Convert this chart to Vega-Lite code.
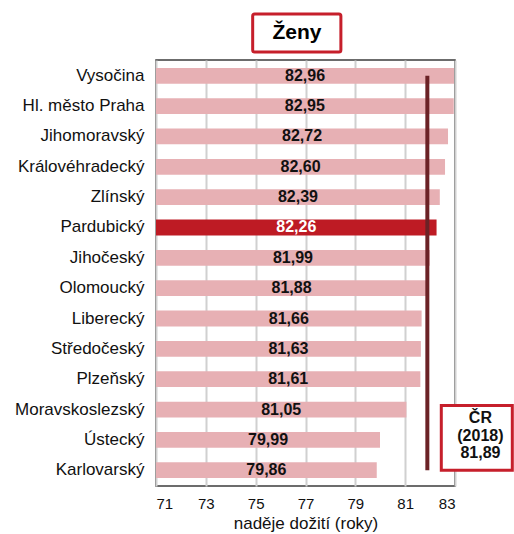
{
  "$schema": "https://vega.github.io/schema/vega-lite/v6.json",
  "background": "white",
  "padding": {"left": 13, "top": 12, "right": 0, "bottom": 0},
  "spacing": 5,
  "config": {
    "font": "Liberation Sans",
    "view": {"stroke": null}
  },
  "vconcat": [
    {
      "width": 299,
      "height": 38,
      "data": {"values": [{"nazev": "Ženy"}]},
      "layer": [
        {
          "mark": {"type": "rect", "fill": "white", "stroke": "#c61f2b", "strokeWidth": 3, "cornerRadius": 2},
          "encoding": {
            "x": {"datum": 74.88, "type": "quantitative", "scale": {"domain": [71, 83], "nice": false, "zero": false}, "axis": null},
            "x2": {"datum": 78.42}
          }
        },
        {
          "mark": {"type": "text", "fontSize": 21, "fontWeight": "bold", "color": "#000", "baseline": "middle"},
          "encoding": {
            "x": {"datum": 76.66, "type": "quantitative"},
            "text": {"field": "nazev", "type": "nominal"}
          }
        }
      ]
    },
    {
      "width": 299,
      "height": 426,
      "view": {"stroke": "#3c3c3c", "strokeWidth": 1.5},
      "data": {"values": [
        {"kraj": "Vysočina", "nadeje": 82.96, "popis": "82,96"},
        {"kraj": "Hl. město Praha", "nadeje": 82.95, "popis": "82,95"},
        {"kraj": "Jihomoravský", "nadeje": 82.72, "popis": "82,72"},
        {"kraj": "Královéhradecký", "nadeje": 82.60, "popis": "82,60"},
        {"kraj": "Zlínský", "nadeje": 82.39, "popis": "82,39"},
        {"kraj": "Pardubický", "nadeje": 82.26, "popis": "82,26"},
        {"kraj": "Jihočeský", "nadeje": 81.99, "popis": "81,99"},
        {"kraj": "Olomoucký", "nadeje": 81.88, "popis": "81,88"},
        {"kraj": "Liberecký", "nadeje": 81.66, "popis": "81,66"},
        {"kraj": "Středočeský", "nadeje": 81.63, "popis": "81,63"},
        {"kraj": "Plzeňský", "nadeje": 81.61, "popis": "81,61"},
        {"kraj": "Moravskoslezský", "nadeje": 81.05, "popis": "81,05"},
        {"kraj": "Ústecký", "nadeje": 79.99, "popis": "79,99"},
        {"kraj": "Karlovarský", "nadeje": 79.86, "popis": "79,86"}
      ]},
      "layer": [
        {
          "mark": {"type": "bar"},
          "encoding": {
            "y": {"field": "kraj", "type": "nominal", "sort": null,
                  "scale": {"paddingInner": 0.48, "paddingOuter": 0.26},
                  "axis": {"title": null, "ticks": false, "domain": false, "labelFontSize": 17, "labelColor": "#111", "labelPadding": 12}},
            "x": {"field": "nadeje", "type": "quantitative",
                  "scale": {"domain": [71, 83], "nice": false, "zero": false},
                  "axis": {"values": [71, 73, 75, 77, 79, 81, 83], "title": "naděje dožití (roky)", "titleFontSize": 17, "titleFontWeight": "normal", "titleColor": "#111", "titlePadding": 4,
                           "labelFontSize": 15, "labelColor": "#111", "labelPadding": 10, "ticks": false, "domain": false,
                           "grid": true, "gridColor": "#d0d0d0", "gridWidth": 2}},
            "x2": {"datum": 71},
            "color": {"condition": {"test": "datum.kraj === 'Pardubický'", "value": "#be1b24"}, "value": "#e7b0b4"}
          }
        },
        {
          "transform": [{"calculate": "(datum.nadeje + 71) / 2", "as": "stred"}],
          "mark": {"type": "text", "fontSize": 16, "fontWeight": "bold", "baseline": "middle"},
          "encoding": {
            "y": {"field": "kraj", "type": "nominal", "sort": null},
            "x": {"field": "stred", "type": "quantitative"},
            "text": {"field": "popis", "type": "nominal"},
            "color": {"condition": {"test": "datum.kraj === 'Pardubický'", "value": "white"}, "value": "#111"}
          }
        },
        {
          "data": {"values": [{"nadeje": 81.89}]},
          "mark": {"type": "rule", "color": "#6b2226", "strokeWidth": 4},
          "encoding": {
            "x": {"field": "nadeje", "type": "quantitative"},
            "y": {"datum": "Vysočina", "type": "nominal"},
            "y2": {"datum": "Karlovarský"}
          }
        },
        {
          "data": {"values": [{"nadeje": 81.89}]},
          "mark": {"type": "rect", "fill": "white", "stroke": "#c61f2b", "strokeWidth": 3},
          "encoding": {
            "x": {"datum": 82.45, "type": "quantitative"},
            "x2": {"datum": 85.3},
            "y": {"datum": "Moravskoslezský", "type": "nominal", "bandPosition": 0.25},
            "y2": {"datum": "Karlovarský"}
          }
        },
        {
          "data": {"values": [{"nadeje": 81.89}]},
          "mark": {"type": "text", "fontSize": 16, "fontWeight": "bold", "lineHeight": 17.5, "baseline": "middle", "color": "#111", "dy": 8.5},
          "encoding": {
            "x": {"datum": 84.02, "type": "quantitative"},
            "y": {"datum": "Moravskoslezský", "type": "nominal"},
            "text": {"value": ["ČR", "(2018)", "81,89"]}
          }
        }
      ]
    }
  ]
}
